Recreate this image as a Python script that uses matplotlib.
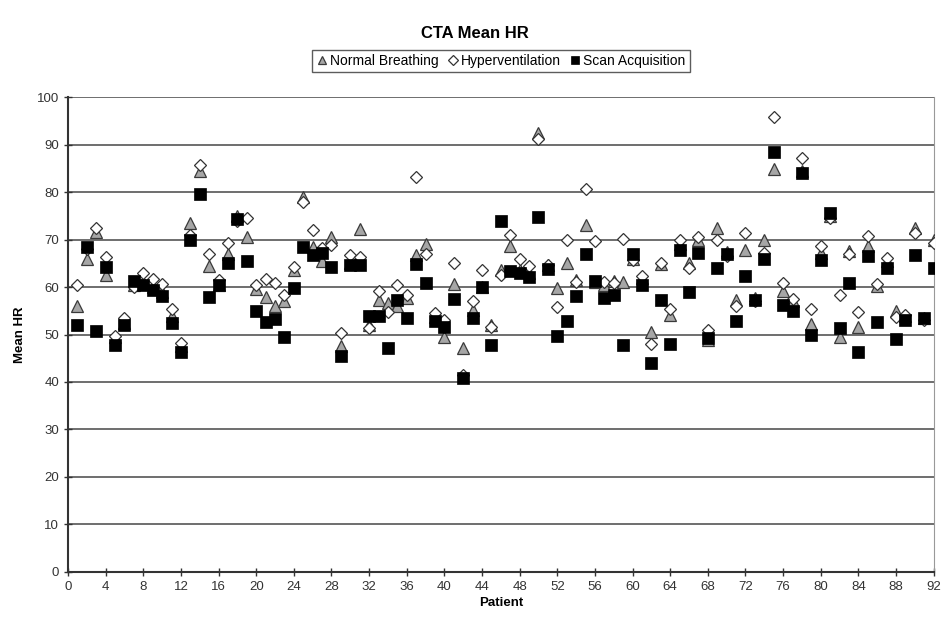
import matplotlib
matplotlib.use("Agg")
import matplotlib.pyplot as plt
import numpy as np

plt.rcParams.update({"font.family": ["Liberation Sans", "DejaVu Sans"], "font.size": 8})

patient = np.arange(1, 93)

normal_breathing = [
    56, 66, 71.5, 62.5, 49.5, 52.5, 60.5, 61, 60, 59, 54, 47.5, 73.5, 84.5, 64.5, 60.5,
    67, 75, 70.5, 59.5, 58, 56, 57, 63.5, 79, 68.5, 65.5, 70.5, 47.5, 65, 72.3, 52,
    57.3, 56.6, 56, 57.6, 66.7, 69.1, 53.7, 49.5, 60.6, 47.1, 55.2, 60, 52, 63.6, 68.6, 63.5,
    63, 92.4, 64.6, 59.7, 65.1, 61.5, 73, 61, 60.5, 61.3, 61.1, 66, 61.8, 50.6, 64.8, 54.2,
    69, 65, 69.9, 48.8, 72.5, 67.3, 57.3, 67.8, 57.6, 69.8, 84.8, 59.2, 57, 84.5, 52.2, 67.2,
    75, 49.5, 67.5, 51.6, 68.7, 60.2, 65.5, 55, 54, 72.5, 53.5, 70,
]
hyperventilation = [
    60.5, 68, 72.4, 66.4, 49.7, 53.5, 60, 62.9, 61.7, 60.6, 55.4, 48.2, 71, 85.7, 66.9, 61.5,
    69.2, 74, 74.5, 60.4, 61.7, 60.9, 58.3, 64.3, 78, 71.9, 68.2, 68.8, 50.4, 66.7, 66.4, 51.3,
    59.2, 54.8, 60.4, 58.3, 83.2, 66.9, 54.5, 53, 65, 41.5, 57.1, 63.6, 51.6, 62.5, 70.9, 66,
    64.4, 91.1, 64.6, 55.7, 70, 61, 80.6, 69.6, 61.1, 60.9, 70.2, 65.7, 62.4, 48.1, 65, 55.3,
    69.8, 63.9, 70.6, 50.9, 69.9, 66.5, 55.9, 71.3, 57, 67.2, 95.9, 60.9, 57.4, 87.1, 55.3, 68.6,
    74.5, 58.3, 66.9, 54.8, 70.7, 60.6, 66.2, 53.6, 54.1, 71.4, 53, 69.3,
]
scan_acquisition = [
    52, 68.5, 50.7, 64.3, 47.8, 52, 61.3, 60.4, 59.4, 58.1, 52.5, 46.3, 69.8, 79.6, 57.9, 60.4,
    65, 74.3, 65.5, 55, 52.7, 53.3, 49.5, 59.8, 68.5, 66.7, 67.1, 64.3, 45.5, 64.6, 64.6, 54,
    54, 47.2, 57.3, 53.5, 64.8, 60.9, 52.9, 51.6, 57.4, 40.9, 53.5, 59.9, 47.8, 73.8, 63.4, 62.9,
    62.2, 74.7, 63.7, 49.7, 52.9, 58.1, 66.9, 61.3, 57.6, 58.3, 47.8, 66.9, 60.4, 44.1, 57.3, 48.1,
    67.8, 59, 67.2, 49.2, 64.1, 66.9, 52.8, 62.4, 57.3, 66, 88.5, 56.2, 54.9, 83.9, 49.9, 65.7,
    75.5, 51.3, 60.9, 46.4, 66.6, 52.7, 64.1, 49.1, 53, 66.7, 53.4, 64.1,
]

fig = plt.figure(figsize=(9.45, 6.26), dpi=100)
ax = fig.add_axes([0.072, 0.0863, 0.916, 0.7587])

ax.plot(patient, normal_breathing, "^", ms=8, mfc="#a6a6a6", mec="#3a3a3a", mew=0.9,
        label="Normal Breathing", zorder=3)
ax.plot(patient, hyperventilation, "D", ms=6.5, mfc="white", mec="#333333", mew=0.9,
        label="Hyperventilation", zorder=4)
ax.plot(patient, scan_acquisition, "s", ms=8, mfc="black", mec="black", mew=0.5,
        label="Scan Acquisition", zorder=5)

ax.set_xlim(0, 92)
ax.set_ylim(0, 100)
ax.set_xticks(np.arange(0, 93, 4))
ax.set_yticks(np.arange(0, 101, 10))
ax.yaxis.grid(True, color="#555555", lw=1.2)
ax.set_axisbelow(True)
ax.tick_params(direction="inout", length=6, width=1, labelsize=9.5, colors="#333333")
for side in ["left", "bottom"]:
    ax.spines[side].set_color("#333333")
    ax.spines[side].set_linewidth(1.5)
ax.spines["top"].set_visible(False)
ax.spines["right"].set_color("#999999")

ax.set_xlabel("Patient", fontweight="bold", fontsize=9.5, labelpad=3)
ax.set_ylabel("Mean HR", fontweight="bold", fontsize=9.5, labelpad=8)

fig.text(0.503, 0.947, "CTA Mean HR", ha="center", va="center", fontweight="bold", fontsize=12)
leg = fig.legend(loc="center", bbox_to_anchor=(0.53, 0.9026), ncol=3, fontsize=10,
                 frameon=True, fancybox=False, edgecolor="#333333", handlelength=0.8,
                 handletextpad=0.2, columnspacing=0.6, borderpad=0.3, markerscale=0.75)
leg.get_frame().set_linewidth(1.0)

fig.savefig("out.png", dpi=100)
